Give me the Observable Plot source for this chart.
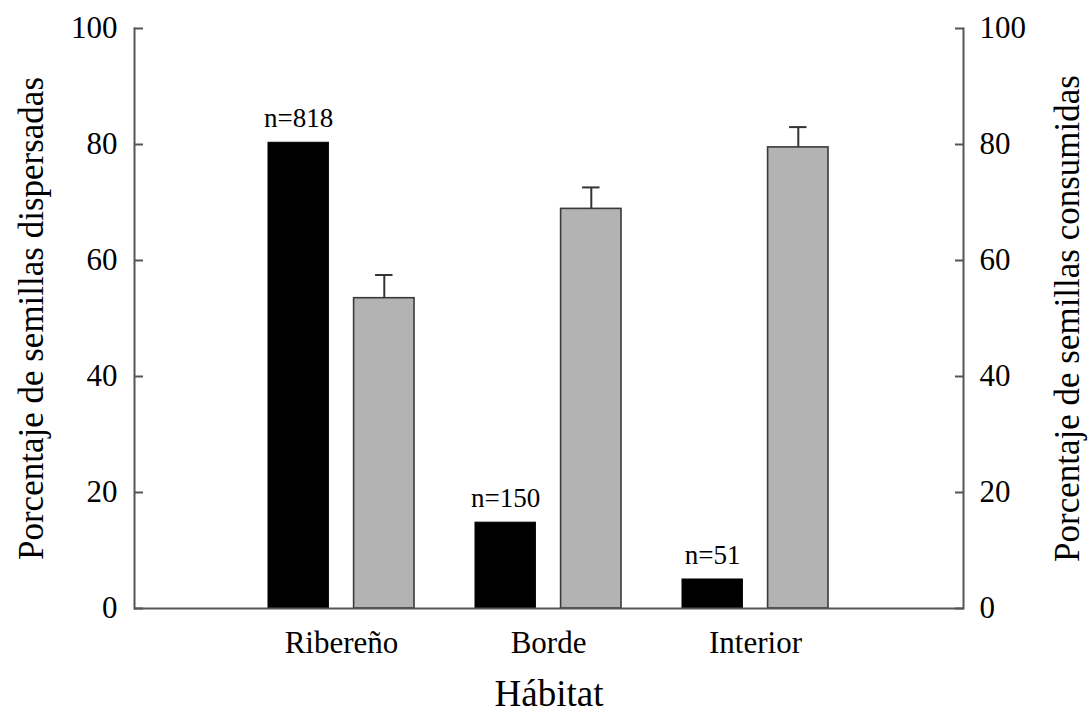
<!DOCTYPE html>
<html>
<head>
<meta charset="utf-8">
<script src="https://cdn.jsdelivr.net/npm/d3@7"></script>
<script src="https://cdn.jsdelivr.net/npm/@observablehq/plot@0.6"></script>
<style>
  body { margin: 0; background: #fff; }
</style>
</head>
<body>
<div id="chart"></div>
<script>
// Habitat categories and the two series (percent of seeds)
const habitats = ["Ribereño", "Borde", "Interior"];
const dispersed = [80.3, 14.8, 5.0];          // % seeds dispersed (black)
const dispersedN = [818, 150, 51];             // sample sizes shown above black bars
const consumed = [53.5, 68.9, 79.5];          // % seeds consumed (grey)
const consumedErr = [4.0, 3.7, 3.5];           // standard error of consumed
const yTicks = [0, 20, 40, 60, 80, 100];
const xTitle = "Hábitat";
const yTitleLeft = "Porcentaje de semillas dispersadas";
const yTitleRight = "Porcentaje de semillas consumidas";

const rows = habitats.map((h, i) => ({
  habitat: h,
  dispersed: dispersed[i],
  n: dispersedN[i],
  consumed: consumed[i],
  top: consumed[i] + consumedErr[i]
}));

// layout
const W = 1091, H = 715;
const mL = 134, mR = 128, mT = 28, mB = 107;
const plotW = W - mL - mR;
const bandW = 146.6;                 // width of one habitat group
const barW = 61;                     // width of each bar
const inset = bandW - barW;          // inset that leaves one bar per side
const off = inset / 2;               // offset from group centre to bar centre
const capHalf = 9;
const axisColor = "#555";
const step = plotW / 4;
const padInner = 1 - bandW / step;
const padOuter = (1 + padInner) / 2;

const chart = Plot.plot({
  width: W,
  height: H,
  marginLeft: mL,
  marginRight: mR,
  marginTop: mT,
  marginBottom: mB,
  style: {
    fontFamily: "'Liberation Serif', 'Times New Roman', serif",
    background: "#fff",
    color: "#000",
    overflow: "visible"
  },
  x: { domain: habitats, paddingInner: padInner, paddingOuter: padOuter, label: null },
  y: { domain: [0, 100], label: null },
  marks: [
    Plot.barY(rows, { x: "habitat", y: "dispersed", fill: "#000", stroke: "#000", strokeWidth: 1, insetRight: inset }),
    Plot.barY(rows, { x: "habitat", y: "consumed", fill: "#b3b3b3", stroke: "#3a3a3a", strokeWidth: 1.6, insetLeft: inset }),
    Plot.ruleX(rows, { x: "habitat", y1: "consumed", y2: "top", dx: off, stroke: "#333", strokeWidth: 2 }),
    Plot.tickY(rows, { x: "habitat", y: "top", insetLeft: inset + barW / 2 - capHalf, insetRight: barW / 2 - capHalf, stroke: "#333", strokeWidth: 2 }),
    Plot.text(rows, { x: "habitat", y: "dispersed", text: d => `n=${d.n}`, dx: -off, dy: -16, lineAnchor: "bottom", fontSize: 27 }),
    Plot.ruleY([0], { stroke: axisColor, strokeWidth: 2 }),
    Plot.frame({ anchor: "left", stroke: axisColor, strokeWidth: 2 }),
    Plot.frame({ anchor: "right", stroke: axisColor, strokeWidth: 2 }),
    Plot.tickY(yTicks, { y: d => d, insetRight: plotW - 9, stroke: axisColor, strokeWidth: 2 }),
    Plot.tickY(yTicks, { y: d => d, insetLeft: plotW - 8, stroke: axisColor, strokeWidth: 2 }),
    Plot.axisY(yTicks, { anchor: "left", tickSize: 0, tickPadding: 17, fontSize: 31, label: null }),
    Plot.axisY(yTicks, { anchor: "right", tickSize: 0, tickPadding: 16, fontSize: 31, label: null }),
    Plot.axisX({ anchor: "bottom", tickSize: 0, tickPadding: 22, fontSize: 31, label: null }),
    Plot.text([xTitle], { frameAnchor: "bottom", lineAnchor: "middle", textAnchor: "middle", dy: 86, fontSize: 37 }),
    Plot.text([yTitleLeft], { frameAnchor: "left", textAnchor: "middle", lineAnchor: "middle", rotate: -90, dx: -103, fontSize: 35 }),
    Plot.text([yTitleRight], { frameAnchor: "right", textAnchor: "middle", lineAnchor: "middle", rotate: -90, dx: 104, fontSize: 35 })
  ]
});

document.getElementById("chart").appendChild(chart);
</script>
</body>
</html>
